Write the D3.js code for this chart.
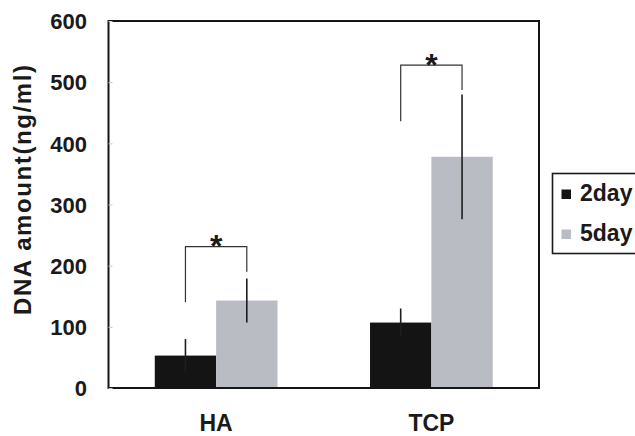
<!DOCTYPE html>
<html>
<head>
<meta charset="utf-8">
<script src="https://cdn.jsdelivr.net/npm/d3@7"></script>
<style>
  html, body { margin: 0; padding: 0; background: #fff; }
  svg { display: block; font-family: "Liberation Sans", Arial, Helvetica, sans-serif; }
</style>
</head>
<body>
<svg id="chart" width="635" height="436"></svg>
<script>
// ---- data ----
const categories = ["HA", "TCP"];
const seriesNames = ["2day", "5day"];
const values2day = [53, 107];
const values5day = [143, 378];
const errors2day = [27, 23];
const errors5day = [36, 102];
const yTicks = [0, 100, 200, 300, 400, 500, 600];
const yLabel = "DNA amount(ng/ml)";
// significance brackets: [top, left leg bottom, right leg bottom] in data units
const bracketTop = [231, 528];
const bracketLeftEnd = [140, 436];
const bracketRightEnd = [190, 487];
const bracketMark = ["*", "*"];

const colors = ["#141414", "#b9bcc3"];

const svg = d3.select("#chart");
const mLeft = 108.5, mRight = 539, mTop = 21, mBottom = 388;

const x = d3.scaleBand().domain(categories).range([mLeft, mRight]).padding(0);
const xs = d3.scaleBand().domain(seriesNames)
  .range([x.bandwidth() * 0.215, x.bandwidth() * 0.785]).padding(0);
const y = d3.scaleLinear().domain([0, 600]).range([mBottom, mTop]);

const rows = categories.map((c, i) => ({
  cat: c,
  vals: [
    { s: seriesNames[0], v: values2day[i], e: errors2day[i] },
    { s: seriesNames[1], v: values5day[i], e: errors5day[i] }
  ]
}));

// bars
const g = svg.append("g");
const groups = g.selectAll("g.grp").data(rows).join("g")
  .attr("transform", d => `translate(${x(d.cat)},0)`);
groups.selectAll("rect").data(d => d.vals).join("rect")
  .attr("x", d => xs(d.s))
  .attr("width", xs.bandwidth())
  .attr("y", d => y(d.v))
  .attr("height", d => y(0) - y(d.v))
  .attr("fill", (d, i) => colors[i]);
// error bars (single vertical lines)
groups.selectAll("line.err").data(d => d.vals).join("line")
  .attr("class", "err")
  .attr("x1", d => xs(d.s) + xs.bandwidth() / 2)
  .attr("x2", d => xs(d.s) + xs.bandwidth() / 2)
  .attr("y1", d => y(d.v - d.e))
  .attr("y2", d => y(d.v + d.e))
  .attr("stroke", "#1e1e1e")
  .attr("stroke-width", 1.6);

// brackets
categories.forEach((c, i) => {
  const xl = x(c) + xs(seriesNames[0]) + xs.bandwidth() / 2;
  const xr = x(c) + xs(seriesNames[1]) + xs.bandwidth() / 2;
  svg.append("path")
    .attr("d", `M${xl},${y(bracketLeftEnd[i])}V${y(bracketTop[i])}H${xr}V${y(bracketRightEnd[i])}`)
    .attr("fill", "none")
    .attr("stroke", "#333")
    .attr("stroke-width", 1.2);
  svg.append("text")
    .attr("x", (xl + xr) / 2)
    .attr("y", y(bracketTop[i]) + 10.5)
    .attr("text-anchor", "middle")
    .attr("font-size", 32)
    .attr("font-weight", "bold")
    .attr("fill", "#1a1a1a")
    .text(bracketMark[i]);
});

// frame
svg.append("rect")
  .attr("x", mLeft).attr("y", mTop)
  .attr("width", mRight - mLeft).attr("height", mBottom - mTop)
  .attr("fill", "none").attr("stroke", "#151515").attr("stroke-width", 2);

// y axis
const yAxis = d3.axisLeft(y).tickValues(yTicks).tickSize(-4).tickPadding(21.5);
const ya = svg.append("g").attr("transform", `translate(${mLeft},0)`).call(yAxis);
ya.select(".domain").remove();
ya.selectAll(".tick line").attr("stroke", "#c8c8c8");
ya.selectAll(".tick text")
  .attr("dy", null).attr("y", 7.8)
  .attr("font-size", 22).attr("font-weight", "bold")
  .attr("font-family", "Liberation Sans, Arial, sans-serif")
  .attr("fill", "#1a1a1a");

// x category labels
svg.append("g").selectAll("text").data(categories).join("text")
  .attr("x", d => x(d) + x.bandwidth() / 2)
  .attr("y", 430.5)
  .attr("text-anchor", "middle")
  .attr("font-size", 23).attr("font-weight", "bold")
  .attr("fill", "#1a1a1a")
  .text(d => d);

// y label
svg.append("text")
  .attr("transform", `translate(31,190) rotate(-90)`)
  .attr("text-anchor", "middle")
  .attr("font-size", 24).attr("font-weight", "bold")
  .attr("fill", "#1a1a1a")
  .attr("textLength", 250).attr("lengthAdjust", "spacing")
  .text(yLabel);

// legend
const lg = svg.append("g");
lg.append("rect").attr("x", 552.5).attr("y", 173.5).attr("width", 100).attr("height", 80)
  .attr("fill", "#fff").attr("stroke", "#1a1a1a").attr("stroke-width", 1.6);
const li = lg.selectAll("g.item").data(seriesNames).join("g")
  .attr("transform", (d, i) => `translate(0,${i * 40})`);
li.append("rect").attr("x", 561.5).attr("y", 189.5).attr("width", 9.5).attr("height", 9.5)
  .attr("fill", (d, i) => colors[i]);
li.append("text").attr("x", 580).attr("y", 200.5)
  .attr("font-size", 23).attr("font-weight", "bold").attr("fill", "#1a1a1a")
  .text(d => d);
</script>
</body>
</html>
